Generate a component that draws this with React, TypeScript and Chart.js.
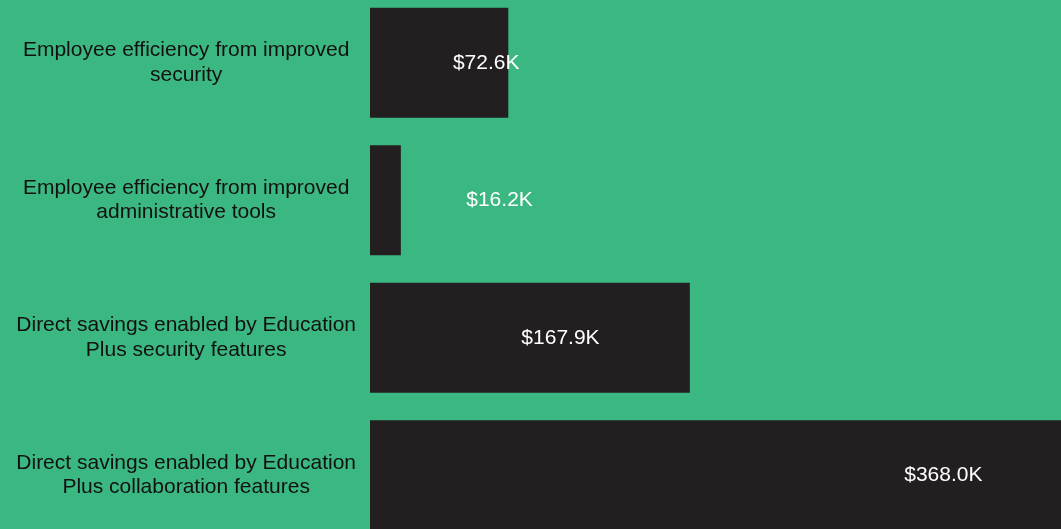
import React, { useEffect, useRef } from "react";
import { Chart, registerables } from "chart.js";

Chart.register(...registerables);

const categories: string[][] = [
  ["Employee efficiency from improved", "security"],
  ["Employee efficiency from improved", "administrative tools"],
  ["Direct savings enabled by Education", "Plus security features"],
  ["Direct savings enabled by Education", "Plus collaboration features"],
];
const values: number[] = [72.6, 16.2, 167.9, 368.0];
const valueLabels: string[] = ["$72.6K", "$16.2K", "$167.9K", "$368.0K"];
// where each value label sits along the value axis (in $K)
const labelAnchors: number[] = [61, 68, 100, 301];

const BG = "#3bb882";
const BAR = "#231f20";
const FONT = "Arial, 'Liberation Sans', sans-serif";

const valueLabelPlugin = {
  id: "valueLabels",
  afterDatasetsDraw(chart: any) {
    const ctx = chart.ctx;
    const meta = chart.getDatasetMeta(0);
    const xScale = chart.scales.x;
    ctx.save();
    ctx.fillStyle = "#ffffff";
    ctx.font = `21px ${FONT}`;
    ctx.textAlign = "center";
    ctx.textBaseline = "middle";
    meta.data.forEach((bar: any, i: number) => {
      const x = xScale.getPixelForValue(labelAnchors[i]);
      ctx.fillText(valueLabels[i], x, bar.y);
    });
    ctx.restore();
  },
};

export default function App() {
  const ref = useRef<HTMLCanvasElement>(null);
  useEffect(() => {
    if (!ref.current) return;
    const chart = new Chart(ref.current, {
      type: "bar",
      data: {
        labels: categories,
        datasets: [
          {
            data: values,
            backgroundColor: BAR,
            borderWidth: 0,
            categoryPercentage: 1,
            barPercentage: 0.8,
          },
        ],
      },
      options: {
        indexAxis: "y",
        animation: false,
        responsive: true,
        maintainAspectRatio: false,
        layout: { padding: 0 },
        plugins: { legend: { display: false }, tooltip: { enabled: false } },
        scales: {
          x: { display: false, min: 0, max: 368, bounds: "data" },
          y: {
            grid: { display: false, drawTicks: false },
            border: { display: false },
            ticks: {
              color: "#111111",
              font: { family: FONT, size: 21, lineHeight: 1.15 },
              crossAlign: "center",
              padding: 14,
            },
            afterFit(scale: any) {
              scale.width = 370;
              scale.paddingTop = 0;
              scale.paddingBottom = 0;
            },
          },
        },
      },
      plugins: [valueLabelPlugin],
    });
    return () => chart.destroy();
  }, []);
  return (
    <div style={{ position: "fixed", inset: 0, overflow: "hidden", background: BG }}>
      <div style={{ position: "absolute", left: 0, top: -6, width: 1071, height: 550 }}>
        <canvas ref={ref} />
      </div>
    </div>
  );
}
